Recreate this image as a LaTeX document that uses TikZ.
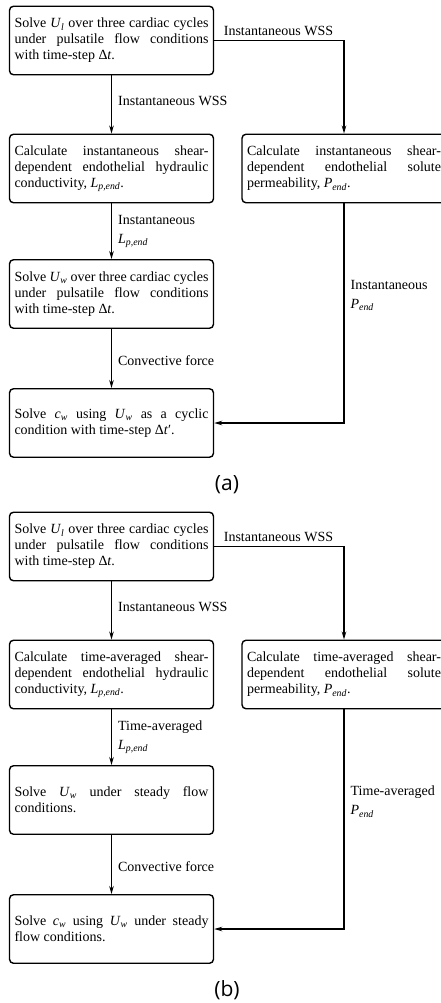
\documentclass[tikz,border=0pt]{standalone}
\usepackage{fontspec}
\setmainfont{Liberation Serif}
\newfontfamily\capfont{Open Sans}
\usetikzlibrary{arrows.meta}
% italic symbols set in the text face
\newcommand\sym[1]{\textit{#1}}
\newcommand\idx[1]{\textsubscript{\textit{#1}}}
\begin{document}
\begin{tikzpicture}[x=1pt,y=-1pt,
  stepbox/.style={draw, line width=1.4pt, rounded corners=4pt,
    minimum width=204pt, minimum height=68.5pt, text width=194pt,
    inner xsep=5pt, inner ysep=0pt, align=justify,
    font=\fontsize{14}{16}\selectfont},
  flow/.style={line width=1.3pt, -{Stealth[length=8pt,width=4.5pt]}},
  lab/.style={inner sep=0pt, font=\fontsize{14}{18}\selectfont, align=left},
  caption/.style={font=\capfont\fontsize{21}{24}\selectfont}]
\useasboundingbox (0,0) rectangle (441,1003);

% ---------- (a) pulsatile coupling ----------
\node[stepbox] (a1) at (111.5,40.5) {Solve \sym{U}\idx{l} over three cardiac cycles\linebreak under pulsatile flow conditions\linebreak with time-step Δ\sym{t}.};
\node[stepbox] (a2) at (111.5,168.5) {Calculate instantaneous shear-\linebreak dependent endothelial hydraulic\linebreak conductivity, \sym{L}\idx{p,end}.};
\node[stepbox] (ar) at (344,168.5) {Calculate instantaneous shear-\linebreak dependent endothelial solute\linebreak permeability, \sym{P}\idx{end}.};
\node[stepbox] (a3) at (111.5,294) {Solve \sym{U}\idx{w} over three cardiac cycles\linebreak under pulsatile flow conditions\linebreak with time-step Δ\sym{t}.};
\node[stepbox] (a4) at (111.5,423) {Solve \sym{c}\idx{w} using \sym{U}\idx{w} as a cyclic\linebreak condition with time-step Δ\sym{t}′.};

\draw[flow] (a1) -- node[lab, anchor=west, xshift=6pt, yshift=4pt] {Instantaneous WSS} (a2);
\draw[flow] (a1.east) -| node[lab, pos=0, anchor=south west, xshift=9pt, yshift=4pt] {Instantaneous WSS} (ar.north);
\draw[flow] (a2) -- node[lab, anchor=west, xshift=6pt] {Instantaneous\\[1pt]\sym{L}\idx{p,end}} (a3);
\draw[flow] (a3) -- node[lab, anchor=west, xshift=6pt, yshift=-2pt] {Convective force} (a4);
\draw[flow] (ar.south) |- node[lab, pos=0.21, anchor=west, xshift=6pt] {Instantaneous\\[1pt]\sym{P}\idx{end}} (a4.east);

\node[caption] (capa) at (227,485) {(a)};

% ---------- (b) time-averaged coupling ----------
\node[stepbox] (b1) at (111.5,546.5) {Solve \sym{U}\idx{l} over three cardiac cycles\linebreak under pulsatile flow conditions\linebreak with time-step Δ\sym{t}.};
\node[stepbox] (b2) at (111.5,674.5) {Calculate time-averaged shear-\linebreak dependent endothelial hydraulic\linebreak conductivity, \sym{L}\idx{p,end}.};
\node[stepbox] (br) at (344,674.5) {Calculate time-averaged shear-\linebreak dependent endothelial solute\linebreak permeability, \sym{P}\idx{end}.};
\node[stepbox] (b3) at (111.5,800) {Solve \sym{U}\idx{w} under steady flow\linebreak conditions.};
\node[stepbox] (b4) at (111.5,929) {Solve \sym{c}\idx{w} using \sym{U}\idx{w} under steady\linebreak flow conditions.};

\draw[flow] (b1) -- node[lab, anchor=west, xshift=6pt, yshift=4pt] {Instantaneous WSS} (b2);
\draw[flow] (b1.east) -| node[lab, pos=0, anchor=south west, xshift=9pt, yshift=4pt] {Instantaneous WSS} (br.north);
\draw[flow] (b2) -- node[lab, anchor=west, xshift=6pt] {Time-averaged\\[1pt]\sym{L}\idx{p,end}} (b3);
\draw[flow] (b3) -- node[lab, anchor=west, xshift=6pt, yshift=-2pt] {Convective force} (b4);
\draw[flow] (br.south) |- node[lab, pos=0.21, anchor=west, xshift=6pt] {Time-averaged\\[1pt]\sym{P}\idx{end}} (b4.east);

\node[caption] (capb) at (227,990) {(b)};
\end{tikzpicture}
\end{document}
